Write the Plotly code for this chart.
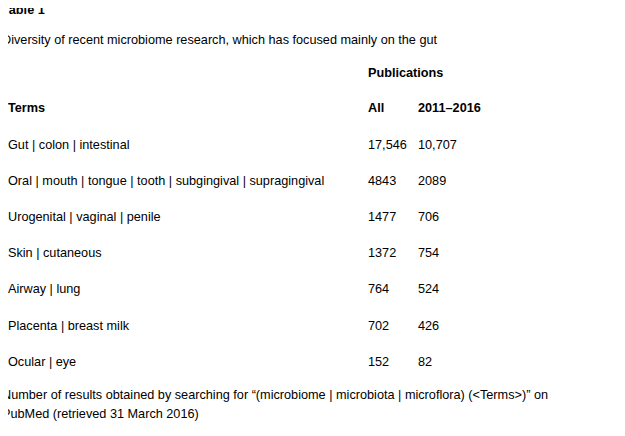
import plotly.graph_objects as go

terms = ["Gut | colon | intestinal",
         "Oral | mouth | tongue | tooth | subgingival | supragingival",
         "Urogenital | vaginal | penile",
         "Skin | cutaneous",
         "Airway | lung",
         "Placenta | breast milk",
         "Ocular | eye"]
all_pubs = ["17,546", "4843", "1477", "1372", "764", "702", "152"]
recent_pubs = ["10,707", "2089", "706", "754", "524", "426", "82"]

W, H = 625, 436
DX, DY = -10, -8
FONT = "Liberation Sans"
fig = go.Figure()
ann = []

def add(px, py, text, bold=False, size=12.7):
    ann.append(dict(x=(px + DX) / W, y=1 - (py + DY) / H, xref="paper", yref="paper",
                    xanchor="left", yanchor="middle", showarrow=False,
                    text=f"<b>{text}</b>" if bold else text,
                    font=dict(family=FONT, size=size, color="black")))

add(2, 10, "Table 1", bold=True)
add(2, 40, "Diversity of recent microbiome research, which has focused mainly on the gut")
add(368, 73, "Publications", bold=True)
add(8, 108, "Terms", bold=True)
add(368, 108, "All", bold=True)
add(418, 108, "2011–2016", bold=True)
row_y = [145, 181, 217, 253, 289, 326, 362]
for t, a, r, y in zip(terms, all_pubs, recent_pubs, row_y):
    add(8, y, t)
    add(368, y, a)
    add(418, y, r)
add(2, 395, "Number of results obtained by searching for \u201c(microbiome | microbiota | microflora) (<Terms>)\u201d on")
add(2, 414, "PubMed (retrieved 31 March 2016)")

fig.update_layout(width=W, height=H, margin=dict(l=0, r=0, t=0, b=0),
                  paper_bgcolor="white", plot_bgcolor="white",
                  xaxis=dict(visible=False), yaxis=dict(visible=False),
                  annotations=ann)
fig.write_html("out.html")
